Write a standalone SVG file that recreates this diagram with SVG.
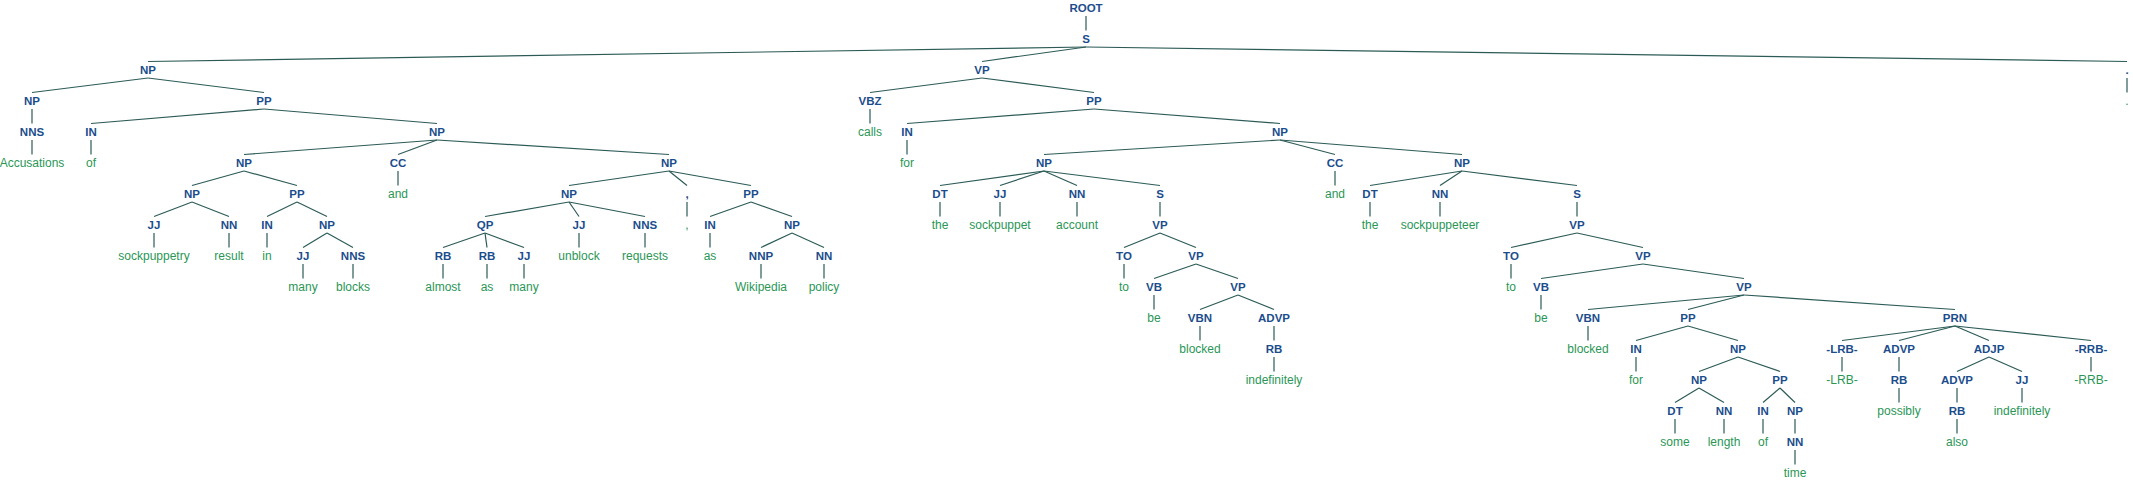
<svg xmlns="http://www.w3.org/2000/svg" width="2133" height="482" viewBox="0 0 2133 482">
<style>
.l{font-family:"Liberation Sans",Arial,sans-serif;font-weight:bold;font-size:11.5px;fill:#1b4d8c;text-anchor:middle}
.w{font-family:"Liberation Sans",Arial,sans-serif;font-size:12px;fill:#2a9656;text-anchor:middle}
#edges line{stroke:#2c5b57;stroke-width:1.2;fill:none}
</style>
<rect width="2133" height="482" fill="#ffffff"/>
<g id="edges">
<line x1="1086" y1="16" x2="1086" y2="30.5"/>
<line x1="1086" y1="47" x2="148" y2="61.5"/>
<line x1="1086" y1="47" x2="982" y2="61.5"/>
<line x1="1086" y1="47" x2="2127" y2="61.5"/>
<line x1="148" y1="78" x2="32" y2="92.5"/>
<line x1="148" y1="78" x2="264" y2="92.5"/>
<line x1="32" y1="109" x2="32" y2="123.5"/>
<line x1="32" y1="140" x2="32" y2="154.5"/>
<line x1="264" y1="109" x2="91" y2="123.5"/>
<line x1="264" y1="109" x2="437" y2="123.5"/>
<line x1="91" y1="140" x2="91" y2="154.5"/>
<line x1="437" y1="140" x2="244" y2="154.5"/>
<line x1="437" y1="140" x2="398" y2="154.5"/>
<line x1="437" y1="140" x2="669" y2="154.5"/>
<line x1="244" y1="171" x2="192" y2="185.5"/>
<line x1="244" y1="171" x2="297" y2="185.5"/>
<line x1="192" y1="202" x2="154" y2="216.5"/>
<line x1="192" y1="202" x2="229" y2="216.5"/>
<line x1="154" y1="233" x2="154" y2="247.5"/>
<line x1="229" y1="233" x2="229" y2="247.5"/>
<line x1="297" y1="202" x2="267" y2="216.5"/>
<line x1="297" y1="202" x2="327" y2="216.5"/>
<line x1="267" y1="233" x2="267" y2="247.5"/>
<line x1="327" y1="233" x2="303" y2="247.5"/>
<line x1="327" y1="233" x2="353" y2="247.5"/>
<line x1="303" y1="264" x2="303" y2="278.5"/>
<line x1="353" y1="264" x2="353" y2="278.5"/>
<line x1="398" y1="171" x2="398" y2="185.5"/>
<line x1="669" y1="171" x2="569" y2="185.5"/>
<line x1="669" y1="171" x2="687" y2="185.5"/>
<line x1="669" y1="171" x2="751" y2="185.5"/>
<line x1="569" y1="202" x2="485" y2="216.5"/>
<line x1="569" y1="202" x2="579" y2="216.5"/>
<line x1="569" y1="202" x2="645" y2="216.5"/>
<line x1="485" y1="233" x2="443" y2="247.5"/>
<line x1="485" y1="233" x2="487" y2="247.5"/>
<line x1="485" y1="233" x2="524" y2="247.5"/>
<line x1="443" y1="264" x2="443" y2="278.5"/>
<line x1="487" y1="264" x2="487" y2="278.5"/>
<line x1="524" y1="264" x2="524" y2="278.5"/>
<line x1="579" y1="233" x2="579" y2="247.5"/>
<line x1="645" y1="233" x2="645" y2="247.5"/>
<line x1="687" y1="202" x2="687" y2="216.5"/>
<line x1="751" y1="202" x2="710" y2="216.5"/>
<line x1="751" y1="202" x2="792" y2="216.5"/>
<line x1="710" y1="233" x2="710" y2="247.5"/>
<line x1="792" y1="233" x2="761" y2="247.5"/>
<line x1="792" y1="233" x2="824" y2="247.5"/>
<line x1="761" y1="264" x2="761" y2="278.5"/>
<line x1="824" y1="264" x2="824" y2="278.5"/>
<line x1="982" y1="78" x2="870" y2="92.5"/>
<line x1="982" y1="78" x2="1094" y2="92.5"/>
<line x1="870" y1="109" x2="870" y2="123.5"/>
<line x1="1094" y1="109" x2="907" y2="123.5"/>
<line x1="1094" y1="109" x2="1280" y2="123.5"/>
<line x1="907" y1="140" x2="907" y2="154.5"/>
<line x1="1280" y1="140" x2="1044" y2="154.5"/>
<line x1="1280" y1="140" x2="1335" y2="154.5"/>
<line x1="1280" y1="140" x2="1462" y2="154.5"/>
<line x1="1044" y1="171" x2="940" y2="185.5"/>
<line x1="1044" y1="171" x2="1000" y2="185.5"/>
<line x1="1044" y1="171" x2="1077" y2="185.5"/>
<line x1="1044" y1="171" x2="1160" y2="185.5"/>
<line x1="940" y1="202" x2="940" y2="216.5"/>
<line x1="1000" y1="202" x2="1000" y2="216.5"/>
<line x1="1077" y1="202" x2="1077" y2="216.5"/>
<line x1="1160" y1="202" x2="1160" y2="216.5"/>
<line x1="1160" y1="233" x2="1124" y2="247.5"/>
<line x1="1160" y1="233" x2="1196" y2="247.5"/>
<line x1="1124" y1="264" x2="1124" y2="278.5"/>
<line x1="1196" y1="264" x2="1154" y2="278.5"/>
<line x1="1196" y1="264" x2="1238" y2="278.5"/>
<line x1="1154" y1="295" x2="1154" y2="309.5"/>
<line x1="1238" y1="295" x2="1200" y2="309.5"/>
<line x1="1238" y1="295" x2="1274" y2="309.5"/>
<line x1="1200" y1="326" x2="1200" y2="340.5"/>
<line x1="1274" y1="326" x2="1274" y2="340.5"/>
<line x1="1274" y1="357" x2="1274" y2="371.5"/>
<line x1="1335" y1="171" x2="1335" y2="185.5"/>
<line x1="1462" y1="171" x2="1370" y2="185.5"/>
<line x1="1462" y1="171" x2="1440" y2="185.5"/>
<line x1="1462" y1="171" x2="1577" y2="185.5"/>
<line x1="1370" y1="202" x2="1370" y2="216.5"/>
<line x1="1440" y1="202" x2="1440" y2="216.5"/>
<line x1="1577" y1="202" x2="1577" y2="216.5"/>
<line x1="1577" y1="233" x2="1511" y2="247.5"/>
<line x1="1577" y1="233" x2="1643" y2="247.5"/>
<line x1="1511" y1="264" x2="1511" y2="278.5"/>
<line x1="1643" y1="264" x2="1541" y2="278.5"/>
<line x1="1643" y1="264" x2="1744" y2="278.5"/>
<line x1="1541" y1="295" x2="1541" y2="309.5"/>
<line x1="1744" y1="295" x2="1588" y2="309.5"/>
<line x1="1744" y1="295" x2="1688" y2="309.5"/>
<line x1="1744" y1="295" x2="1955" y2="309.5"/>
<line x1="1588" y1="326" x2="1588" y2="340.5"/>
<line x1="1688" y1="326" x2="1636" y2="340.5"/>
<line x1="1688" y1="326" x2="1738" y2="340.5"/>
<line x1="1636" y1="357" x2="1636" y2="371.5"/>
<line x1="1738" y1="357" x2="1699" y2="371.5"/>
<line x1="1738" y1="357" x2="1780" y2="371.5"/>
<line x1="1699" y1="388" x2="1675" y2="402.5"/>
<line x1="1699" y1="388" x2="1724" y2="402.5"/>
<line x1="1675" y1="419" x2="1675" y2="433.5"/>
<line x1="1724" y1="419" x2="1724" y2="433.5"/>
<line x1="1780" y1="388" x2="1763" y2="402.5"/>
<line x1="1780" y1="388" x2="1795" y2="402.5"/>
<line x1="1763" y1="419" x2="1763" y2="433.5"/>
<line x1="1795" y1="419" x2="1795" y2="433.5"/>
<line x1="1795" y1="450" x2="1795" y2="464.5"/>
<line x1="1955" y1="326" x2="1842" y2="340.5"/>
<line x1="1955" y1="326" x2="1899" y2="340.5"/>
<line x1="1955" y1="326" x2="1989" y2="340.5"/>
<line x1="1955" y1="326" x2="2091" y2="340.5"/>
<line x1="1842" y1="357" x2="1842" y2="371.5"/>
<line x1="1899" y1="357" x2="1899" y2="371.5"/>
<line x1="1899" y1="388" x2="1899" y2="402.5"/>
<line x1="1989" y1="357" x2="1957" y2="371.5"/>
<line x1="1989" y1="357" x2="2022" y2="371.5"/>
<line x1="1957" y1="388" x2="1957" y2="402.5"/>
<line x1="1957" y1="419" x2="1957" y2="433.5"/>
<line x1="2022" y1="388" x2="2022" y2="402.5"/>
<line x1="2091" y1="357" x2="2091" y2="371.5"/>
<line x1="2127" y1="78" x2="2127" y2="92.5"/>
</g>
<g id="n-root"><text class="l" x="1086" y="12">ROOT</text></g>
<g id="n-s"><text class="l" x="1086" y="43">S</text></g>
<g id="n-np1"><text class="l" x="148" y="74">NP</text></g>
<g id="n-np2"><text class="l" x="32" y="105">NP</text></g>
<g id="n-nns1"><text class="l" x="32" y="136">NNS</text></g>
<g id="w-accusations"><text class="w" x="32" y="167">Accusations</text></g>
<g id="n-pp1"><text class="l" x="264" y="105">PP</text></g>
<g id="n-in1"><text class="l" x="91" y="136">IN</text></g>
<g id="w-of1"><text class="w" x="91" y="167">of</text></g>
<g id="n-np3"><text class="l" x="437" y="136">NP</text></g>
<g id="n-np4"><text class="l" x="244" y="167">NP</text></g>
<g id="n-np5"><text class="l" x="192" y="198">NP</text></g>
<g id="n-jj1"><text class="l" x="154" y="229">JJ</text></g>
<g id="w-sockpuppetry"><text class="w" x="154" y="260">sockpuppetry</text></g>
<g id="n-nn1"><text class="l" x="229" y="229">NN</text></g>
<g id="w-result"><text class="w" x="229" y="260">result</text></g>
<g id="n-pp2"><text class="l" x="297" y="198">PP</text></g>
<g id="n-in2"><text class="l" x="267" y="229">IN</text></g>
<g id="w-in"><text class="w" x="267" y="260">in</text></g>
<g id="n-np6"><text class="l" x="327" y="229">NP</text></g>
<g id="n-jj2"><text class="l" x="303" y="260">JJ</text></g>
<g id="w-many1"><text class="w" x="303" y="291">many</text></g>
<g id="n-nns2"><text class="l" x="353" y="260">NNS</text></g>
<g id="w-blocks"><text class="w" x="353" y="291">blocks</text></g>
<g id="n-cc1"><text class="l" x="398" y="167">CC</text></g>
<g id="w-and1"><text class="w" x="398" y="198">and</text></g>
<g id="n-np7"><text class="l" x="669" y="167">NP</text></g>
<g id="n-np8"><text class="l" x="569" y="198">NP</text></g>
<g id="n-qp"><text class="l" x="485" y="229">QP</text></g>
<g id="n-rb1"><text class="l" x="443" y="260">RB</text></g>
<g id="w-almost"><text class="w" x="443" y="291">almost</text></g>
<g id="n-rb2"><text class="l" x="487" y="260">RB</text></g>
<g id="w-as1"><text class="w" x="487" y="291">as</text></g>
<g id="n-jj3"><text class="l" x="524" y="260">JJ</text></g>
<g id="w-many2"><text class="w" x="524" y="291">many</text></g>
<g id="n-jj4"><text class="l" x="579" y="229">JJ</text></g>
<g id="w-unblock"><text class="w" x="579" y="260">unblock</text></g>
<g id="n-nns3"><text class="l" x="645" y="229">NNS</text></g>
<g id="w-requests"><text class="w" x="645" y="260">requests</text></g>
<g id="n-comma"><text class="l" x="687" y="198">,</text></g>
<g id="w-comma"><text class="w" x="687" y="229">,</text></g>
<g id="n-pp3"><text class="l" x="751" y="198">PP</text></g>
<g id="n-in3"><text class="l" x="710" y="229">IN</text></g>
<g id="w-as2"><text class="w" x="710" y="260">as</text></g>
<g id="n-np9"><text class="l" x="792" y="229">NP</text></g>
<g id="n-nnp"><text class="l" x="761" y="260">NNP</text></g>
<g id="w-wikipedia"><text class="w" x="761" y="291">Wikipedia</text></g>
<g id="n-nn2"><text class="l" x="824" y="260">NN</text></g>
<g id="w-policy"><text class="w" x="824" y="291">policy</text></g>
<g id="n-vp1"><text class="l" x="982" y="74">VP</text></g>
<g id="n-vbz"><text class="l" x="870" y="105">VBZ</text></g>
<g id="w-calls"><text class="w" x="870" y="136">calls</text></g>
<g id="n-pp4"><text class="l" x="1094" y="105">PP</text></g>
<g id="n-in4"><text class="l" x="907" y="136">IN</text></g>
<g id="w-for1"><text class="w" x="907" y="167">for</text></g>
<g id="n-np10"><text class="l" x="1280" y="136">NP</text></g>
<g id="n-np11"><text class="l" x="1044" y="167">NP</text></g>
<g id="n-dt1"><text class="l" x="940" y="198">DT</text></g>
<g id="w-the1"><text class="w" x="940" y="229">the</text></g>
<g id="n-jj5"><text class="l" x="1000" y="198">JJ</text></g>
<g id="w-sockpuppet"><text class="w" x="1000" y="229">sockpuppet</text></g>
<g id="n-nn3"><text class="l" x="1077" y="198">NN</text></g>
<g id="w-account"><text class="w" x="1077" y="229">account</text></g>
<g id="n-s2"><text class="l" x="1160" y="198">S</text></g>
<g id="n-vp2"><text class="l" x="1160" y="229">VP</text></g>
<g id="n-to1"><text class="l" x="1124" y="260">TO</text></g>
<g id="w-to1"><text class="w" x="1124" y="291">to</text></g>
<g id="n-vp3"><text class="l" x="1196" y="260">VP</text></g>
<g id="n-vb1"><text class="l" x="1154" y="291">VB</text></g>
<g id="w-be1"><text class="w" x="1154" y="322">be</text></g>
<g id="n-vp4"><text class="l" x="1238" y="291">VP</text></g>
<g id="n-vbn1"><text class="l" x="1200" y="322">VBN</text></g>
<g id="w-blocked1"><text class="w" x="1200" y="353">blocked</text></g>
<g id="n-advp1"><text class="l" x="1274" y="322">ADVP</text></g>
<g id="n-rb3"><text class="l" x="1274" y="353">RB</text></g>
<g id="w-indefinitely1"><text class="w" x="1274" y="384">indefinitely</text></g>
<g id="n-cc2"><text class="l" x="1335" y="167">CC</text></g>
<g id="w-and2"><text class="w" x="1335" y="198">and</text></g>
<g id="n-np12"><text class="l" x="1462" y="167">NP</text></g>
<g id="n-dt2"><text class="l" x="1370" y="198">DT</text></g>
<g id="w-the2"><text class="w" x="1370" y="229">the</text></g>
<g id="n-nn4"><text class="l" x="1440" y="198">NN</text></g>
<g id="w-sockpuppeteer"><text class="w" x="1440" y="229">sockpuppeteer</text></g>
<g id="n-s3"><text class="l" x="1577" y="198">S</text></g>
<g id="n-vp5"><text class="l" x="1577" y="229">VP</text></g>
<g id="n-to2"><text class="l" x="1511" y="260">TO</text></g>
<g id="w-to2"><text class="w" x="1511" y="291">to</text></g>
<g id="n-vp6"><text class="l" x="1643" y="260">VP</text></g>
<g id="n-vb2"><text class="l" x="1541" y="291">VB</text></g>
<g id="w-be2"><text class="w" x="1541" y="322">be</text></g>
<g id="n-vp7"><text class="l" x="1744" y="291">VP</text></g>
<g id="n-vbn2"><text class="l" x="1588" y="322">VBN</text></g>
<g id="w-blocked2"><text class="w" x="1588" y="353">blocked</text></g>
<g id="n-pp5"><text class="l" x="1688" y="322">PP</text></g>
<g id="n-in5"><text class="l" x="1636" y="353">IN</text></g>
<g id="w-for2"><text class="w" x="1636" y="384">for</text></g>
<g id="n-np13"><text class="l" x="1738" y="353">NP</text></g>
<g id="n-np14"><text class="l" x="1699" y="384">NP</text></g>
<g id="n-dt3"><text class="l" x="1675" y="415">DT</text></g>
<g id="w-some"><text class="w" x="1675" y="446">some</text></g>
<g id="n-nn5"><text class="l" x="1724" y="415">NN</text></g>
<g id="w-length"><text class="w" x="1724" y="446">length</text></g>
<g id="n-pp6"><text class="l" x="1780" y="384">PP</text></g>
<g id="n-in6"><text class="l" x="1763" y="415">IN</text></g>
<g id="w-of2"><text class="w" x="1763" y="446">of</text></g>
<g id="n-np15"><text class="l" x="1795" y="415">NP</text></g>
<g id="n-nn6"><text class="l" x="1795" y="446">NN</text></g>
<g id="w-time"><text class="w" x="1795" y="477">time</text></g>
<g id="n-prn"><text class="l" x="1955" y="322">PRN</text></g>
<g id="n-lrb"><text class="l" x="1842" y="353">-LRB-</text></g>
<g id="w-lrb"><text class="w" x="1842" y="384">-LRB-</text></g>
<g id="n-advp2"><text class="l" x="1899" y="353">ADVP</text></g>
<g id="n-rb4"><text class="l" x="1899" y="384">RB</text></g>
<g id="w-possibly"><text class="w" x="1899" y="415">possibly</text></g>
<g id="n-adjp"><text class="l" x="1989" y="353">ADJP</text></g>
<g id="n-advp3"><text class="l" x="1957" y="384">ADVP</text></g>
<g id="n-rb5"><text class="l" x="1957" y="415">RB</text></g>
<g id="w-also"><text class="w" x="1957" y="446">also</text></g>
<g id="n-jj6"><text class="l" x="2022" y="384">JJ</text></g>
<g id="w-indefinitely2"><text class="w" x="2022" y="415">indefinitely</text></g>
<g id="n-rrb"><text class="l" x="2091" y="353">-RRB-</text></g>
<g id="w-rrb"><text class="w" x="2091" y="384">-RRB-</text></g>
<g id="n-period"><text class="l" x="2127" y="74">.</text></g>
<g id="w-period"><text class="w" x="2127" y="105">.</text></g>
</svg>
